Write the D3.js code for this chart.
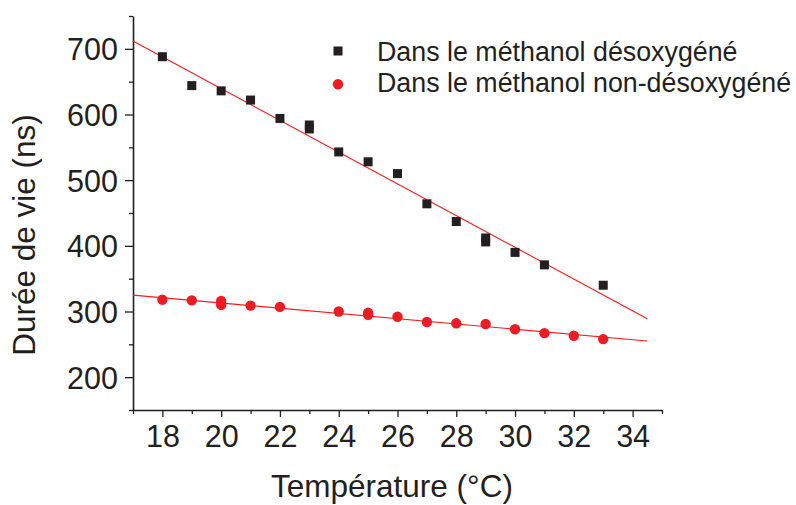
<!DOCTYPE html>
<html>
<head>
<meta charset="utf-8">
<script src="https://cdn.jsdelivr.net/npm/d3@7"></script>
<style>
  body { margin: 0; background: #fff; }
  svg text { font-family: "Liberation Sans", Arial, sans-serif; fill: #231f20; }
</style>
</head>
<body>
<div id="chart"></div>
<script>
// temperatures (°C) and lifetimes (ns)
var tempDeox = [18, 19, 20, 21, 22, 23, 23, 24, 25, 26, 27, 28, 29, 29, 30, 31, 33];
var lifeDeox = [688, 644, 636, 622, 594, 584, 578, 543, 528, 510, 464, 437, 412, 406, 390, 371, 340];

var tempNonDeox = [18, 19, 20, 20, 21, 22, 24, 25, 25, 26, 27, 28, 29, 30, 31, 32, 33];
var lifeNonDeox = [318, 317, 316, 310, 309, 307, 300, 298, 295, 292, 284, 282, 281, 273, 267, 263, 258];

// linear fits, ends of the drawn segment
var fitTemp = [17, 34.5];
var fitDeox = [712, 289];
var fitNonDeox = [325, 255];

var xTicks = [18, 20, 22, 24, 26, 28, 30, 32, 34];
var yTicks = [200, 300, 400, 500, 600, 700];
var legendLabels = ["Dans le méthanol désoxygéné", "Dans le méthanol non-désoxygéné"];

var W = 796, H = 505;
var margin = {top: 16, right: 134, bottom: 95, left: 133};
var width = W - margin.left - margin.right;
var height = H - margin.top - margin.bottom;
var ink = "#231f20", red = "#ed1c24";

var svg = d3.select("#chart").append("svg")
    .attr("width", W)
    .attr("height", H);

var g = svg.append("g")
    .attr("transform", "translate(" + margin.left + "," + margin.top + ")");

var x = d3.scaleLinear().domain([17, 35]).range([0, width]);
var y = d3.scaleLinear().domain([150, 750]).range([height, 0]);

// minor ticks
var xMinor = d3.range(17, 35.1, 1).filter(function(d) { return d % 2 !== 0; });
var yMinor = d3.range(150, 751, 100);

g.append("g")
    .attr("transform", "translate(0," + height + ")")
    .call(d3.axisBottom(x).tickValues(xMinor).tickSize(4).tickFormat(""))
    .call(function(a) { a.select(".domain").remove(); a.selectAll("line").attr("stroke", ink).attr("stroke-width", 1.3); });

g.append("g")
    .call(d3.axisLeft(y).tickValues(yMinor).tickSize(4).tickFormat(""))
    .call(function(a) { a.select(".domain").remove(); a.selectAll("line").attr("stroke", ink).attr("stroke-width", 1.3); });

var xAxis = g.append("g")
    .attr("transform", "translate(0," + height + ")")
    .call(d3.axisBottom(x).tickValues(xTicks).tickSize(7).tickSizeOuter(0).tickPadding(8));

var yAxis = g.append("g")
    .call(d3.axisLeft(y).tickValues(yTicks).tickSize(8).tickSizeOuter(0).tickPadding(7));

[xAxis, yAxis].forEach(function(a) {
    a.select(".domain").attr("stroke", ink).attr("stroke-width", 1.6);
    a.selectAll(".tick line").attr("stroke", ink).attr("stroke-width", 1.3);
    a.selectAll("text")
        .attr("fill", ink)
        .style("font-family", "'Liberation Sans', Arial, sans-serif")
        .style("font-size", "30.5px");
});
xAxis.selectAll("text").attr("dy", "0.71em");
yAxis.selectAll("text").attr("dy", "0.36em");

// axis titles
svg.append("text")
    .attr("x", 392)
    .attr("y", 497)
    .attr("text-anchor", "middle")
    .style("font-size", "31.5px")
    .text("Température (°C)");

svg.append("text")
    .attr("transform", "translate(35,235) rotate(-90)")
    .attr("text-anchor", "middle")
    .style("font-size", "31.5px")
    .text("Durée de vie (ns)");

// fit lines
var fitLine = d3.line()
    .x(function(d) { return x(d[0]); })
    .y(function(d) { return y(d[1]); });

g.append("path")
    .datum(d3.zip(fitTemp, fitDeox))
    .attr("fill", "none")
    .attr("stroke", "#ff1a1a")
    .attr("stroke-width", 1.1)
    .attr("d", fitLine);

g.append("path")
    .datum(d3.zip(fitTemp, fitNonDeox))
    .attr("fill", "none")
    .attr("stroke", "#ff1a1a")
    .attr("stroke-width", 1.1)
    .attr("d", fitLine);

// points
var sq = 9;
g.selectAll(".sq")
    .data(d3.zip(tempDeox, lifeDeox))
    .enter().append("rect")
    .attr("class", "sq")
    .attr("x", function(d) { return x(d[0]) - sq / 2; })
    .attr("y", function(d) { return y(d[1]) - sq / 2; })
    .attr("width", sq)
    .attr("height", sq)
    .attr("fill", ink);

g.selectAll(".dot")
    .data(d3.zip(tempNonDeox, lifeNonDeox))
    .enter().append("circle")
    .attr("class", "dot")
    .attr("cx", function(d) { return x(d[0]); })
    .attr("cy", function(d) { return y(d[1]); })
    .attr("r", 5.2)
    .attr("fill", red);

// legend
var legend = svg.append("g").attr("transform", "translate(338,0)");
legend.append("rect")
    .attr("x", -sq / 2).attr("y", 51 - sq / 2)
    .attr("width", sq).attr("height", sq)
    .attr("fill", ink);
legend.append("circle")
    .attr("cx", 0).attr("cy", 84.3)
    .attr("r", 5.2)
    .attr("fill", red);
legend.selectAll(".lbl")
    .data(legendLabels)
    .enter().append("text")
    .attr("class", "lbl")
    .attr("x", 39)
    .attr("y", function(d, i) { return 61 + i * 31; })
    .style("font-size", "26.8px")
    .text(function(d) { return d; });
</script>
</body>
</html>
